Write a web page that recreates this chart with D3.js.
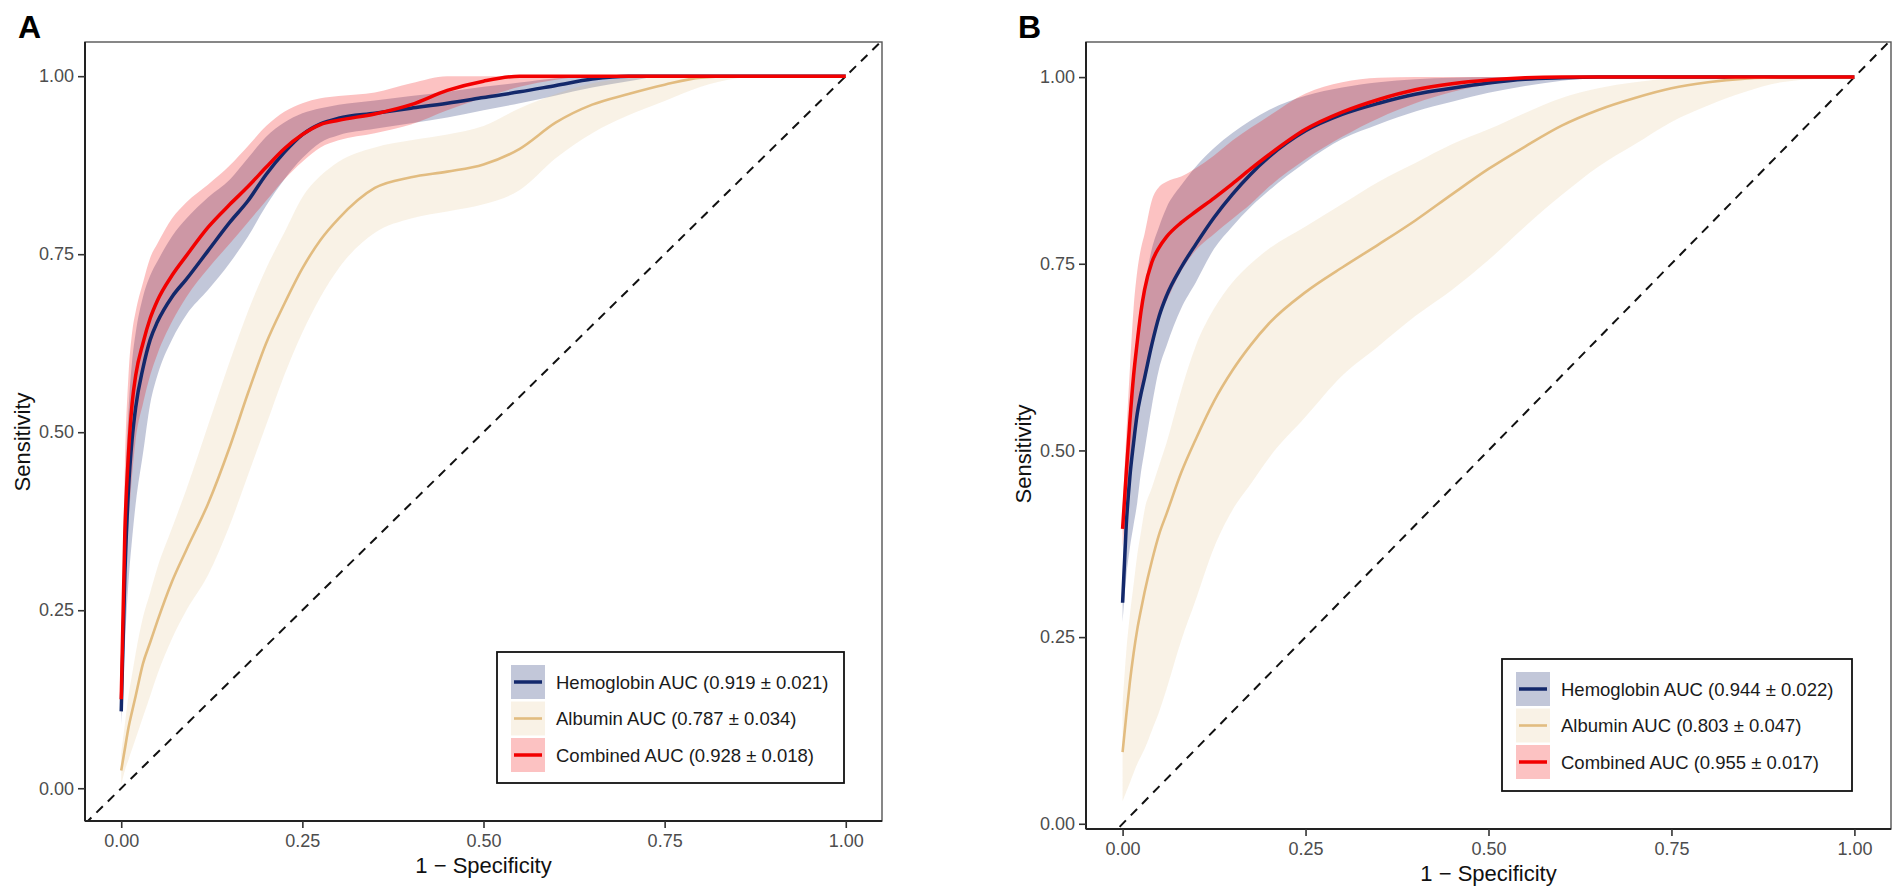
<!DOCTYPE html>
<html>
<head>
<meta charset="utf-8">
<script src="https://cdn.jsdelivr.net/npm/d3@7"></script>
<style>
  body { margin: 0; background: #fff; }
  text { font-family: "Liberation Sans", Arial, Helvetica, sans-serif; }
</style>
</head>
<body>
<div id="chart"></div>
<script>
// ---- data ----
const seriesNames = ["Hemoglobin", "Albumin", "Combined"];
const xTicks = [0, 0.25, 0.5, 0.75, 1];
const yTicks = [0, 0.25, 0.5, 0.75, 1];

// panel A
const fprA = [0, 0.005, 0.01, 0.015, 0.02, 0.03, 0.04, 0.05, 0.07, 0.09, 0.12, 0.15, 0.175, 0.2, 0.225, 0.25, 0.275, 0.3, 0.35, 0.4, 0.45, 0.5, 0.55, 0.6, 0.65, 0.7, 0.75, 0.8, 0.85, 0.9, 1];
const hbA    = [0.108, 0.30, 0.42, 0.49, 0.535, 0.59, 0.63, 0.655, 0.69, 0.715, 0.755, 0.795, 0.825, 0.862, 0.893, 0.918, 0.933, 0.941, 0.948, 0.955, 0.962, 0.970, 0.978, 0.987, 0.996, 1, 1, 1, 1, 1, 1];
const hbALo  = [0.09, 0.20, 0.29, 0.35, 0.40, 0.47, 0.54, 0.58, 0.63, 0.665, 0.70, 0.738, 0.775, 0.818, 0.855, 0.885, 0.907, 0.917, 0.926, 0.934, 0.942, 0.952, 0.962, 0.973, 0.984, 0.993, 1, 1, 1, 1, 1];
const hbAHi  = [0.13, 0.40, 0.53, 0.60, 0.64, 0.69, 0.72, 0.74, 0.775, 0.80, 0.83, 0.855, 0.885, 0.915, 0.935, 0.948, 0.955, 0.96, 0.966, 0.972, 0.978, 0.985, 0.991, 0.997, 1, 1, 1, 1, 1, 1, 1];
const albA   = [0.025, 0.055, 0.085, 0.108, 0.13, 0.175, 0.205, 0.235, 0.29, 0.335, 0.40, 0.48, 0.555, 0.625, 0.68, 0.73, 0.77, 0.80, 0.843, 0.858, 0.866, 0.876, 0.898, 0.935, 0.96, 0.975, 0.988, 0.998, 1, 1, 1];
const albALo = [0.005, 0.025, 0.04, 0.055, 0.07, 0.10, 0.13, 0.16, 0.21, 0.25, 0.30, 0.37, 0.44, 0.51, 0.58, 0.64, 0.69, 0.73, 0.78, 0.80, 0.81, 0.82, 0.84, 0.885, 0.92, 0.945, 0.965, 0.985, 0.997, 1, 1];
const albAHi = [0.05, 0.09, 0.13, 0.16, 0.19, 0.24, 0.275, 0.31, 0.365, 0.42, 0.51, 0.60, 0.67, 0.73, 0.78, 0.83, 0.86, 0.88, 0.90, 0.91, 0.918, 0.93, 0.955, 0.975, 0.99, 0.997, 1, 1, 1, 1, 1];
const combA   = [0.125, 0.36, 0.47, 0.54, 0.58, 0.625, 0.66, 0.685, 0.72, 0.748, 0.788, 0.82, 0.845, 0.872, 0.898, 0.918, 0.932, 0.938, 0.947, 0.96, 0.98, 0.993, 1, 1, 1, 1, 1, 1, 1, 1, 1];
const combALo = [0.10, 0.27, 0.37, 0.44, 0.49, 0.54, 0.58, 0.61, 0.655, 0.69, 0.73, 0.765, 0.795, 0.825, 0.855, 0.88, 0.90, 0.91, 0.92, 0.932, 0.952, 0.97, 0.985, 0.995, 1, 1, 1, 1, 1, 1, 1];
const combAHi = [0.15, 0.45, 0.58, 0.64, 0.67, 0.71, 0.745, 0.765, 0.80, 0.823, 0.848, 0.875, 0.902, 0.93, 0.95, 0.962, 0.969, 0.972, 0.977, 0.99, 1, 1, 1, 1, 1, 1, 1, 1, 1, 1, 1];
const legendA = ["Hemoglobin AUC (0.919 ± 0.021)", "Albumin AUC (0.787 ± 0.034)", "Combined AUC (0.928 ± 0.018)"];

// panel B
const fprB = [0, 0.005, 0.01, 0.015, 0.02, 0.025, 0.03, 0.04, 0.05, 0.06, 0.08, 0.1, 0.125, 0.15, 0.175, 0.2, 0.25, 0.3, 0.35, 0.4, 0.45, 0.5, 0.55, 0.6, 0.65, 0.7, 0.75, 0.8, 0.85, 0.9, 1];
const hbB    = [0.296, 0.40, 0.465, 0.51, 0.549, 0.575, 0.597, 0.642, 0.68, 0.707, 0.745, 0.776, 0.812, 0.843, 0.87, 0.893, 0.928, 0.95, 0.965, 0.977, 0.985, 0.992, 0.997, 0.999, 1, 1, 1, 1, 1, 1, 1];
const hbBLo  = [0.27, 0.33, 0.37, 0.40, 0.43, 0.47, 0.50, 0.56, 0.61, 0.64, 0.69, 0.725, 0.77, 0.80, 0.826, 0.848, 0.886, 0.917, 0.937, 0.954, 0.967, 0.979, 0.988, 0.995, 0.999, 1, 1, 1, 1, 1, 1];
const hbBHi  = [0.33, 0.47, 0.55, 0.61, 0.66, 0.69, 0.72, 0.77, 0.80, 0.825, 0.855, 0.88, 0.905, 0.925, 0.942, 0.956, 0.975, 0.986, 0.993, 0.997, 0.999, 1, 1, 1, 1, 1, 1, 1, 1, 1, 1];
const albB   = [0.096, 0.145, 0.19, 0.228, 0.26, 0.286, 0.31, 0.352, 0.388, 0.415, 0.47, 0.515, 0.566, 0.607, 0.641, 0.67, 0.712, 0.745, 0.776, 0.808, 0.843, 0.877, 0.907, 0.935, 0.956, 0.972, 0.985, 0.993, 0.998, 1, 1];
const albBLo = [0.03, 0.043, 0.055, 0.068, 0.08, 0.09, 0.10, 0.125, 0.15, 0.18, 0.245, 0.30, 0.37, 0.42, 0.455, 0.49, 0.545, 0.60, 0.64, 0.68, 0.715, 0.755, 0.80, 0.842, 0.88, 0.91, 0.94, 0.962, 0.98, 0.993, 1];
const albBHi = [0.16, 0.23, 0.28, 0.32, 0.36, 0.39, 0.42, 0.45, 0.48, 0.51, 0.58, 0.64, 0.69, 0.725, 0.75, 0.77, 0.80, 0.83, 0.86, 0.885, 0.91, 0.93, 0.952, 0.972, 0.985, 0.993, 0.998, 1, 1, 1, 1];
const combB   = [0.395, 0.47, 0.54, 0.60, 0.645, 0.685, 0.715, 0.752, 0.772, 0.786, 0.805, 0.82, 0.838, 0.857, 0.877, 0.896, 0.93, 0.953, 0.97, 0.983, 0.991, 0.996, 0.999, 1, 1, 1, 1, 1, 1, 1, 1];
const combBLo = [0.37, 0.42, 0.47, 0.51, 0.54, 0.57, 0.595, 0.64, 0.68, 0.70, 0.74, 0.768, 0.79, 0.81, 0.83, 0.853, 0.89, 0.92, 0.945, 0.965, 0.98, 0.99, 0.996, 1, 1, 1, 1, 1, 1, 1, 1];
const combBHi = [0.42, 0.52, 0.61, 0.69, 0.74, 0.77, 0.79, 0.835, 0.853, 0.86, 0.867, 0.878, 0.895, 0.915, 0.932, 0.948, 0.978, 0.993, 0.999, 1, 1, 1, 1, 1, 1, 1, 1, 1, 1, 1, 1];
const legendB = ["Hemoglobin AUC (0.944 ± 0.022)", "Albumin AUC (0.803 ± 0.047)", "Combined AUC (0.955 ± 0.017)"];

// ---- styling ----
const lineColor = ["#13286B", "#E2BC80", "#F20000"];
const fillAlpha = [0.26, 0.2, 0.24];
const lineWidth = [3.5, 2.6, 3.5];

const svg = d3.select("#chart").append("svg")
  .attr("width", 1902)
  .attr("height", 896);

function drawPanel(p) {
  const x = d3.scaleLinear().domain([-0.05, 1.05]).range([p.left, p.right]);
  const y = d3.scaleLinear().domain(p.yDomain).range([p.bottom, p.top]);

  const clipId = "clip" + p.label;
  svg.append("clipPath").attr("id", clipId)
    .append("rect")
    .attr("x", p.left).attr("y", p.top)
    .attr("width", p.right - p.left).attr("height", p.bottom - p.top);

  const g = svg.append("g").attr("clip-path", `url(#${clipId})`);

  // chance line
  g.append("line")
    .attr("x1", x(-0.05)).attr("y1", y(-0.05))
    .attr("x2", x(1.05)).attr("y2", y(1.05))
    .attr("stroke", "#111")
    .attr("stroke-width", 2)
    .attr("stroke-dasharray", "9,7");

  const area = d3.area()
    .x(d => x(d.fpr)).y0(d => y(d.lo)).y1(d => y(d.hi))
    .curve(d3.curveMonotoneX);
  const line = d3.line()
    .x(d => x(d.fpr)).y(d => y(d.tpr))
    .curve(d3.curveMonotoneX);

  const series = p.series.map((s, k) => p.fpr.map((f, i) => ({
    fpr: f, tpr: s.tpr[i], lo: s.lo[i], hi: s.hi[i], k
  })));

  series.forEach((pts, k) => {
    g.append("path")
      .datum(pts)
      .attr("d", area)
      .attr("fill", lineColor[k])
      .attr("fill-opacity", fillAlpha[k]);
  });
  series.forEach((pts, k) => {
    g.append("path")
      .datum(pts)
      .attr("d", line)
      .attr("fill", "none")
      .attr("stroke", lineColor[k])
      .attr("stroke-width", lineWidth[k]);
  });

  // frame
  svg.append("rect")
    .attr("x", p.left).attr("y", p.top)
    .attr("width", p.right - p.left).attr("height", p.bottom - p.top)
    .attr("fill", "none").attr("stroke", "#555").attr("stroke-width", 1.4);

  const xAxis = d3.axisBottom(x).tickValues(xTicks).tickFormat(d3.format(".2f")).tickSize(7).tickSizeOuter(0);
  const yAxis = d3.axisLeft(y).tickValues(yTicks).tickFormat(d3.format(".2f")).tickSize(7).tickSizeOuter(0);

  const gx = svg.append("g").attr("transform", `translate(0,${p.bottom})`).call(xAxis);
  const gy = svg.append("g").attr("transform", `translate(${p.left},0)`).call(yAxis);
  [gx, gy].forEach(a => {
    a.select(".domain").attr("stroke", "#222").attr("stroke-width", 2);
    a.selectAll(".tick line").attr("stroke", "#333").attr("stroke-width", 1.6);
    a.selectAll(".tick text")
      .attr("fill", "#4D4D4D")
      .style("font-size", "18px")
      .style("font-family", '"Liberation Sans", Arial, sans-serif');
  });
  gx.select(".domain").attr("d", `M${p.left},0H${p.right}`);
  gy.select(".domain").attr("d", `M0,${p.bottom}V${p.top}`);
  gx.selectAll(".tick text").attr("y", 11).attr("dy", "0.85em");
  gy.selectAll(".tick text").attr("x", -11);

  // axis titles
  svg.append("text")
    .attr("x", (p.left + p.right) / 2)
    .attr("y", p.bottom + 52)
    .attr("text-anchor", "middle")
    .attr("font-size", "22px")
    .attr("fill", "#111")
    .text("1 − Specificity");

  svg.append("text")
    .attr("transform", `translate(${p.yTitleX},${p.yTitleY}) rotate(-90)`)
    .attr("text-anchor", "middle")
    .attr("font-size", "22px")
    .attr("fill", "#111")
    .text("Sensitivity");

  // panel tag
  svg.append("text")
    .attr("x", p.tagX).attr("y", 38)
    .attr("font-size", "32px")
    .attr("font-weight", "bold")
    .attr("fill", "#000")
    .text(p.label);

  // legend
  const lg = svg.append("g").attr("transform", `translate(${p.legend.x},${p.legend.y})`);
  lg.append("rect")
    .attr("width", p.legend.w).attr("height", p.legend.h)
    .attr("fill", "#fff").attr("stroke", "#111").attr("stroke-width", 1.8);

  p.legendText.forEach((t, k) => {
    const cy = 30 + k * 36.5;
    lg.append("rect")
      .attr("x", 14).attr("y", cy - 17)
      .attr("width", 34).attr("height", 34)
      .attr("fill", lineColor[k]).attr("fill-opacity", fillAlpha[k]);
    lg.append("line")
      .attr("x1", 17).attr("x2", 45)
      .attr("y1", cy).attr("y2", cy)
      .attr("stroke", lineColor[k]).attr("stroke-width", lineWidth[k]);
    lg.append("text")
      .attr("x", 59).attr("y", cy)
      .attr("dy", "0.36em")
      .attr("font-size", "18.5px")
      .attr("fill", "#1a1a1a")
      .text(t);
  });
}

drawPanel({
  label: "A", tagX: 18,
  left: 85, right: 882, top: 42, bottom: 821,
  yDomain: [-0.046, 1.048], yTitleX: 30, yTitleY: 442,
  fpr: fprA,
  series: [
    { tpr: hbA, lo: hbALo, hi: hbAHi },
    { tpr: albA, lo: albALo, hi: albAHi },
    { tpr: combA, lo: combALo, hi: combAHi }
  ],
  legendText: legendA,
  legend: { x: 497, y: 652, w: 347, h: 131 }
});

drawPanel({
  label: "B", tagX: 1018,
  left: 1086, right: 1891, top: 42, bottom: 829,
  yDomain: [-0.007, 1.047], yTitleX: 1031, yTitleY: 454,
  fpr: fprB,
  series: [
    { tpr: hbB, lo: hbBLo, hi: hbBHi },
    { tpr: albB, lo: albBLo, hi: albBHi },
    { tpr: combB, lo: combBLo, hi: combBHi }
  ],
  legendText: legendB,
  legend: { x: 1502, y: 659, w: 350, h: 132 }
});
</script>
</body>
</html>
